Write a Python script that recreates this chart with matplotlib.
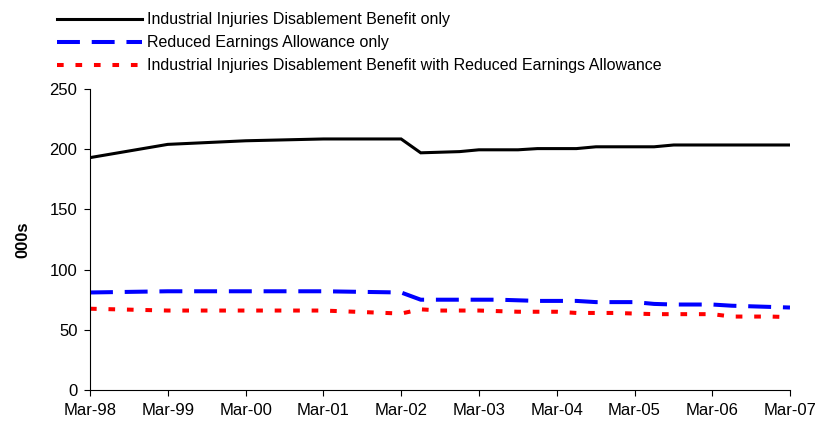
"""Industrial Injuries Disablement Benefit caseload, Mar-98 to Mar-07."""

import matplotlib as mpl

mpl.use("Agg")
mpl.rcParams.update(
    {
        "font.family": ["Liberation Sans", "DejaVu Sans"],
        "font.size": 11,
        "lines.scale_dashes": False,
    }
)
import matplotlib.pyplot as plt
import matplotlib.dates as mdates
import pandas as pd

# Data (thousands) - annual to Mar-02, quarterly afterwards
dates = [
    "1998-03", "1999-03", "2000-03", "2001-03", "2002-03",
    "2002-06", "2002-09", "2002-12", "2003-03",
    "2003-06", "2003-09", "2003-12", "2004-03",
    "2004-06", "2004-09", "2004-12", "2005-03",
    "2005-06", "2005-09", "2005-12", "2006-03",
    "2006-06", "2006-09", "2006-12", "2007-03",
]
iidb_only = [
    193, 204, 207, 208.5, 208.5,
    197, 197.5, 198, 199.5,
    199.5, 199.5, 200.5, 200.5,
    200.5, 202, 202, 202,
    202, 203.5, 203.5, 203.5,
    203.5, 203.5, 203.5, 203.5,
]
rea_only = [
    81, 82, 82, 82, 81,
    75, 75, 75, 75,
    75, 74.5, 74, 74,
    74, 73, 73, 73,
    71.5, 71, 71, 71,
    70, 69.5, 69, 68.5,
]
iidb_with_rea = [
    67.5, 66, 66, 66, 63.5,
    67, 66, 66, 66,
    65.5, 65, 65, 65,
    64, 64, 64, 63.5,
    63, 63, 63, 63,
    61, 61, 61, 60.5,
]
labels = [
    "Industrial Injuries Disablement Benefit only",
    "Reduced Earnings Allowance only",
    "Industrial Injuries Disablement Benefit with Reduced Earnings Allowance",
]
tick_years = list(range(1998, 2008))

x = pd.to_datetime(dates, format="%Y-%m")

fig = plt.figure(figsize=(8.34, 4.23), dpi=100, facecolor="white")
ax = fig.add_axes([0.1079, 0.078, 0.8393, 0.7116])

l1, = ax.plot(x, iidb_only, color="black", lw=2.2, solid_joinstyle="miter")
l2, = ax.plot(x, rea_only, color="#0000FF", lw=2.9, dashes=(16.5, 8.5))
l3, = ax.plot(x, iidb_with_rea, color="#FF0000", lw=2.9, dashes=(4.8, 8.5))

ax.set_ylim(0, 250)
ax.set_yticks(range(0, 251, 50))
ticks = pd.to_datetime([f"{y}-03" for y in tick_years], format="%Y-%m")
ax.set_xlim(ticks[0], ticks[-1])
ax.set_xticks(ticks)
ax.xaxis.set_major_formatter(mdates.DateFormatter("%b-%y"))

for side in ("top", "right"):
    ax.spines[side].set_visible(False)
for side in ("left", "bottom"):
    ax.spines[side].set_linewidth(0.8)
    ax.spines[side].set_color("black")
ax.tick_params(axis="both", direction="out", length=4, width=0.8,
               labelsize=12, colors="black")
ax.tick_params(axis="x", pad=5)
ax.tick_params(axis="y", pad=5)
ax.set_ylabel("000s", fontsize=12, weight="bold", labelpad=14)

fig.legend(
    [l1, l2, l3], labels,
    loc="upper left", bbox_to_anchor=(0.056, 0.995),
    frameon=False, fontsize=11.5,
    handlelength=5.3, handletextpad=0.3, labelspacing=0.5,
    borderaxespad=0.25,
)

fig.savefig("out.png", dpi=100, facecolor="white")
